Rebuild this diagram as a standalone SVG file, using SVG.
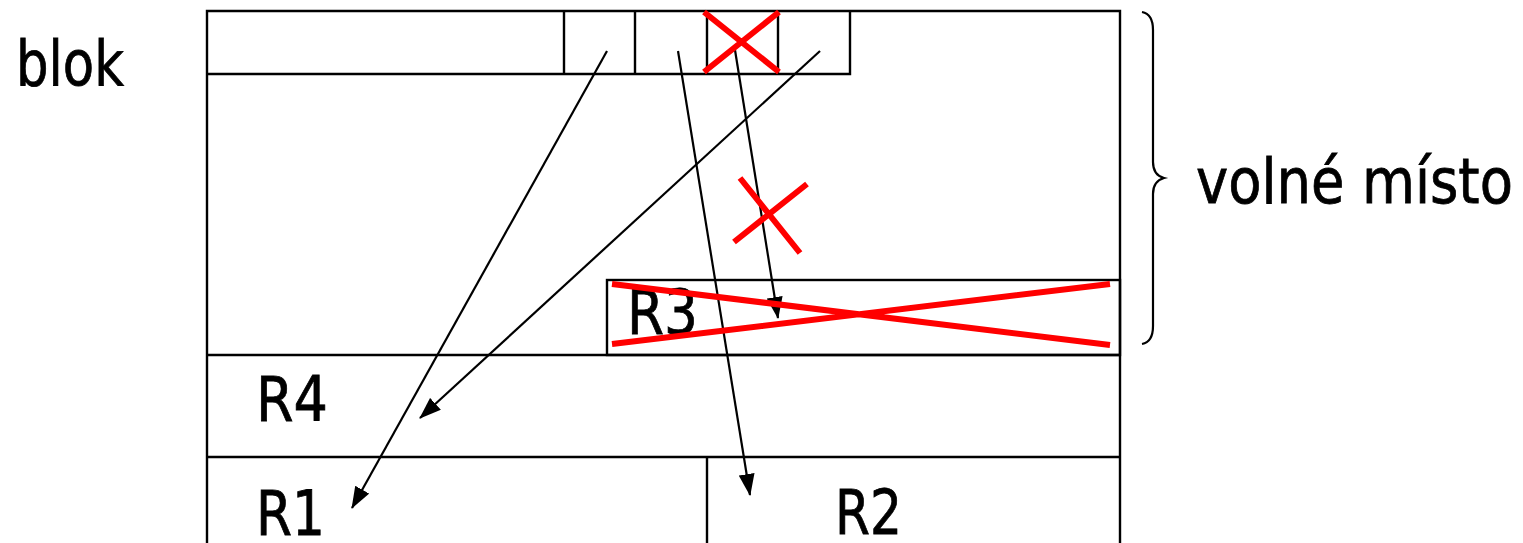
<svg xmlns="http://www.w3.org/2000/svg" width="1523" height="543" viewBox="0 0 1523 543">
<style>
.ln{stroke:#000;stroke-width:2.4;fill:none}
.thin{stroke:#000;stroke-width:2.2;fill:none}
.red{stroke:#ff0000;stroke-width:6;fill:none}
.t{font-family:"DejaVu Sans","Liberation Sans",sans-serif;font-size:63px;fill:#000;stroke:#000;stroke-width:0.8}
</style>
<defs>
<marker id="ah" viewBox="0 0 22 16" markerUnits="userSpaceOnUse" markerWidth="22" markerHeight="16" refX="21" refY="8" orient="auto">
<path d="M0,0 L22,8 L0,16 z" fill="#000"/>
</marker>
</defs>
<g id="frame">
<path class="ln" d="M207,543 V11 H1120 V543"/>
</g>
<g id="blok-header">
<path class="ln" d="M207,74 H850 V11 M564,11 V74 M635,11 V74 M707,11 V74 M778,11 V74"/>
</g>
<g id="R3">
<rect class="ln" x="607" y="280" width="513" height="75"/>
<text class="t" x="627" y="334" textLength="71" lengthAdjust="spacingAndGlyphs">R3</text>
</g>
<g id="R4">
<path class="ln" d="M207,355 H1120"/>
<text class="t" x="256" y="421" textLength="72" lengthAdjust="spacingAndGlyphs">R4</text>
</g>
<g id="R1">
<path class="ln" d="M207,457 H1120"/>
<text class="t" x="256" y="535" textLength="69" lengthAdjust="spacingAndGlyphs">R1</text>
</g>
<g id="R2">
<path class="ln" d="M707,457 V543"/>
<text class="t" x="835" y="534" textLength="67" lengthAdjust="spacingAndGlyphs">R2</text>
</g>
<g id="connectors">
<line class="thin" x1="607" y1="51" x2="352" y2="508" marker-end="url(#ah)"/>
<line class="thin" x1="678" y1="51" x2="750" y2="495" marker-end="url(#ah)"/>
<line class="thin" x1="735" y1="50" x2="778" y2="318" marker-end="url(#ah)"/>
<line class="thin" x1="820" y1="51" x2="420" y2="418" marker-end="url(#ah)"/>
</g>
<g id="crosses">
<path class="red" d="M704,12 L779,72 M704,72 L779,12"/>
<path class="red" d="M740,178 L800,253 M807,184 L734,242"/>
<path class="red" d="M612,284 L1110,345 M612,344 L1110,284"/>
</g>
<g id="brace">
<path class="thin" d="M1142,12 Q1153,14 1153,30 V162 Q1153,175 1164,178 Q1153,181 1153,194 V326 Q1153,342 1142,344"/>
</g>
<g id="labels">
<text class="t" x="16" y="85" textLength="108" lengthAdjust="spacingAndGlyphs">blok</text>
<text class="t" x="1196" y="203" textLength="317" lengthAdjust="spacingAndGlyphs">volné místo</text>
</g>
</svg>
